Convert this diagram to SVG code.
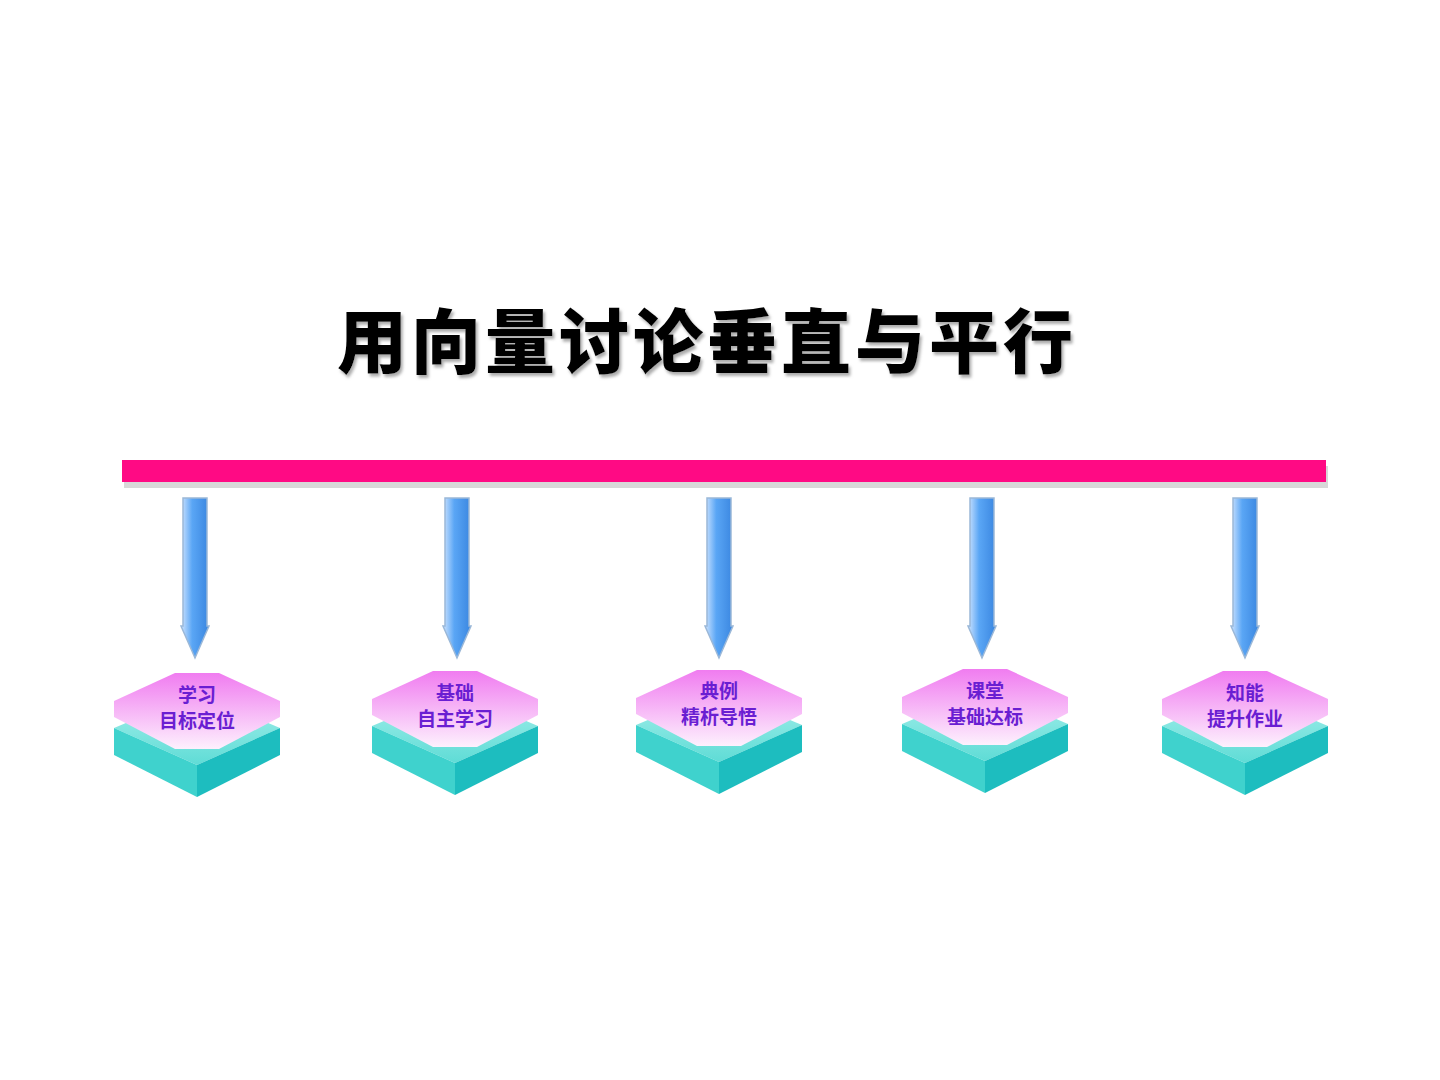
<svg xmlns="http://www.w3.org/2000/svg" width="1440" height="1080" viewBox="0 0 1440 1080">
<defs>
<filter id="sh" x="-5%" y="-20%" width="110%" height="140%"><feDropShadow dx="2" dy="3" stdDeviation="1.5" flood-color="#888" flood-opacity="0.7"/></filter>
<linearGradient id="arr" x1="0" y1="0" x2="1" y2="0"><stop offset="0" stop-color="#cfe4ff"/><stop offset="0.4" stop-color="#5aa6f5"/><stop offset="1" stop-color="#3a86e0"/></linearGradient>
<linearGradient id="pk" x1="0" y1="0" x2="0" y2="1"><stop offset="0" stop-color="#f07cf0"/><stop offset="1" stop-color="#fdf0fd"/></linearGradient>
<linearGradient id="tf" x1="0" y1="0" x2="0" y2="1"><stop offset="0" stop-color="#a8f0ec"/><stop offset="1" stop-color="#5fdcd6"/></linearGradient>
<g id="tile">
<polygon points="0,20 83,55 0,92 -83,55" fill="url(#tf)"/>
<polygon points="-83,55 0,92 0,124 -83,82" fill="#3fd2cd"/>
<polygon points="83,55 0,92 0,124 83,82" fill="#1dbdbf"/>
<polygon points="-22,0 22,0 83,28 83,44 22,76 -22,76 -83,44 -83,28" fill="url(#pk)"/>
</g>
<g id="arrow">
<path d="M-12,0 H12 V128 H14 L0,160 L-14,128 H-12 Z" fill="url(#arr)" stroke="#9bb8d8" stroke-width="1.5"/>
</g>
</defs>
<style>
.t{font-family:"Noto Sans CJK SC",sans-serif;font-weight:700;font-size:19px;fill:#6a1ed2;text-anchor:middle}
</style>
<rect width="1440" height="1080" fill="#fff"/>
<g id="title">
<text x="707" y="368" text-anchor="middle" font-family="Noto Sans CJK SC, sans-serif" font-weight="900" font-size="70" letter-spacing="4" fill="#000" filter="url(#sh)">用向量讨论垂直与平行</text>
</g>
<g id="bar">
<rect x="124" y="466" width="1204" height="22" fill="#d8d8d8"/>
<rect x="122" y="460" width="1204" height="22" fill="#ff0a84"/>
</g>
<g id="connectors">
<use href="#arrow" x="195" y="498"/>
<use href="#arrow" x="457" y="498"/>
<use href="#arrow" x="719" y="498"/>
<use href="#arrow" x="982" y="498"/>
<use href="#arrow" x="1245" y="498"/>
</g>
<g id="n1"><use href="#tile" x="197" y="673"/><text class="t" x="197" y="702">学习</text><text class="t" x="197" y="728">目标定位</text></g>
<g id="n2"><use href="#tile" x="455" y="671"/><text class="t" x="455" y="700">基础</text><text class="t" x="455" y="726">自主学习</text></g>
<g id="n3"><use href="#tile" x="719" y="670"/><text class="t" x="719" y="698">典例</text><text class="t" x="719" y="724">精析导悟</text></g>
<g id="n4"><use href="#tile" x="985" y="669"/><text class="t" x="985" y="698">课堂</text><text class="t" x="985" y="724">基础达标</text></g>
<g id="n5"><use href="#tile" x="1245" y="671"/><text class="t" x="1245" y="700">知能</text><text class="t" x="1245" y="726">提升作业</text></g>
</svg>
